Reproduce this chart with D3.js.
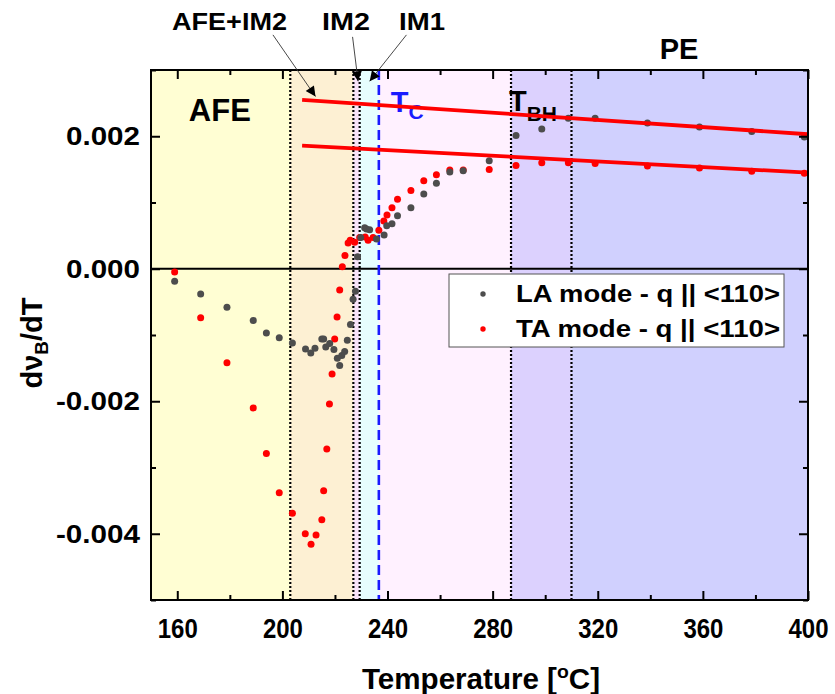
<!DOCTYPE html>
<html>
<head>
<meta charset="utf-8">
<script src="https://cdn.jsdelivr.net/npm/d3@7"></script>
<style>
  body { margin: 0; background: #fff; }
  text { font-family: "Liberation Sans", Arial, sans-serif; font-weight: bold; fill: #000; }
</style>
</head>
<body>
<svg id="chart" width="835" height="694"></svg>
<script>
// LA mode (gray) : temperature [°C] and dν_B/dT
const laT = [159.0, 168.9, 178.9, 188.9, 193.9, 198.8, 203.8, 208.8, 210.8, 212.4,
             215.0, 215.7, 216.5, 218.0, 219.6, 220.9, 221.8, 222.6, 223.7, 224.7,
             225.9, 226.9, 227.8, 228.6, 229.8, 231.3, 232.0, 233.2, 235.8, 238.7,
             239.7, 241.7, 243.8, 248.9, 253.8, 258.6, 263.7, 268.8, 278.7, 288.9,
             298.7, 308.8, 319.0, 338.9, 358.7, 378.6, 398.6];
const laV = [-0.00019, -0.00038, -0.00058, -0.00078, -0.00097, -0.00104, -0.00112, -0.00121, -0.00127, -0.00120,
             -0.00106, -0.00106, -0.00118, -0.00113, -0.00122, -0.00135, -0.00146, -0.00131, -0.00125, -0.00108,
             -0.00084, -0.00046, -0.00034, 0.00018, 0.00047, 0.00062, 0.00060, 0.00059, 0.00045, 0.00051,
             0.00065, 0.00068, 0.00080, 0.00092, 0.00113, 0.00129, 0.00146, 0.00148, 0.00163, 0.00201,
             0.00211, 0.00227, 0.00227, 0.00220, 0.00214, 0.00207, 0.00199];

// TA mode (red)
const taT = [159.0, 168.9, 178.9, 188.9, 193.9, 198.8, 203.8, 208.7, 210.9, 212.8,
             215.0, 215.7, 216.9, 217.9, 218.9, 219.9, 220.8, 221.8, 222.8, 223.8,
             225.0, 225.8, 227.5, 229.4, 231.5, 232.6, 234.5, 236.7, 238.6, 239.8,
             241.7, 243.8, 248.9, 253.8, 258.6, 263.7, 268.8, 278.7, 288.9, 298.7,
             308.8, 319.0, 338.9, 358.7, 378.6, 398.6];
const taV = [-0.00005, -0.00074, -0.00142, -0.00210, -0.00279, -0.00338, -0.00369, -0.00400, -0.00416, -0.00402,
             -0.00379, -0.00335, -0.00272, -0.00204, -0.00159, -0.00106, -0.00073, -0.00032, 0.00003, 0.00020,
             0.00039, 0.00043, 0.00040, 0.00047, 0.00048, 0.00043, 0.00047, 0.00058, 0.00072, 0.00081,
             0.00092, 0.00105, 0.00118, 0.00133, 0.00142, 0.00149, 0.00149, 0.00150, 0.00156, 0.00160,
             0.00160, 0.00159, 0.00155, 0.00152, 0.00147, 0.00144];

// Linear fits in the paraelectric range
const fitT  = [207.5, 400];
const fitLA = [0.00255, 0.00203];
const fitTA = [0.00186, 0.00145];

// Phase regions (temperature bounds) and their fills
const regionEdges  = [150, 203, 227, 229.4, 236.7, 287, 310, 400];
const regionColors = ["#FFFED3", "#FDF0D3", "#F8E2F8", "#E6FEFE", "#FFF1FF", "#DCD1FE", "#D0D0FE"];
const dottedAt = [203, 227, 229.4, 287, 310];
const tcAt = 236.7;

const xMajor = [160, 200, 240, 280, 320, 360, 400];
const xMinor = [180, 220, 260, 300, 340, 380];
const yMajor = [-0.004, -0.002, 0, 0.002];
const yMinor = [-0.005, -0.003, -0.001, 0.001, 0.003];

const svg = d3.select("#chart");
const L = 151, R = 808, T = 70, B = 600;
const x = d3.scaleLinear().domain([150, 400]).range([L, R]);
const y = d3.scaleLinear().domain([-0.005, 0.003]).range([B, T]);

// background regions
const g = svg.append("g");
g.selectAll("rect.region").data(regionColors).join("rect")
  .attr("class", "region")
  .attr("x", (d, i) => x(regionEdges[i]))
  .attr("width", (d, i) => x(regionEdges[i + 1]) - x(regionEdges[i]))
  .attr("y", T).attr("height", B - T)
  .attr("fill", d => d);

// zero line
g.append("line").attr("x1", L).attr("x2", R).attr("y1", y(0)).attr("y2", y(0))
  .attr("stroke", "#000").attr("stroke-width", 2);

// phase boundaries
g.selectAll("line.bound").data(dottedAt).join("line")
  .attr("class", "bound")
  .attr("x1", d => x(d)).attr("x2", d => x(d)).attr("y1", T).attr("y2", B)
  .attr("stroke", "#000").attr("stroke-width", 2.2).attr("stroke-dasharray", "2,2");

g.append("line").attr("x1", x(tcAt)).attr("x2", x(tcAt)).attr("y1", T).attr("y2", B)
  .attr("stroke", "#1a1aff").attr("stroke-width", 2.6).attr("stroke-dasharray", "10,5");

// in-plot labels
g.append("text").attr("x", x(164.4)).attr("y", 121).attr("font-size", 31).text("AFE");
const tc = g.append("text").attr("x", x(241.2)).attr("y", 112).attr("font-size", 29).style("fill", "#1a1aff");
tc.append("tspan").text("T");
tc.append("tspan").attr("font-size", 21).attr("dy", 7).text("C");
const tbh = g.append("text").attr("x", x(286.2)).attr("y", 111).attr("font-size", 29);
tbh.append("tspan").text("T");
tbh.append("tspan").attr("font-size", 21).attr("dy", 10).text("BH");

// data points
g.selectAll("circle.ta").data(taT).join("circle")
  .attr("class", "ta")
  .attr("cx", d => x(d)).attr("cy", (d, i) => y(taV[i])).attr("r", 3.5).attr("fill", "#ff0000");
g.selectAll("circle.la").data(laT).join("circle")
  .attr("class", "la")
  .attr("cx", d => x(d)).attr("cy", (d, i) => y(laV[i])).attr("r", 3.5).attr("fill", "#4d4d4d");

// fit lines
[fitLA, fitTA].forEach(f => {
  g.append("line")
    .attr("x1", x(fitT[0])).attr("y1", y(f[0]))
    .attr("x2", x(fitT[1])).attr("y2", y(f[1]))
    .attr("stroke", "#ff0000").attr("stroke-width", 3.8);
});

// axes: major + minor ticks on all four sides, pointing inward
function styleAxis(sel) {
  sel.select(".domain").remove();
  sel.selectAll(".tick line").attr("stroke", "#000").attr("stroke-width", 2);
}
const fmtY = v => v.toFixed(3);
svg.append("g").attr("transform", `translate(0,${B})`)
  .call(d3.axisBottom(x).tickValues(xMajor).tickSize(-9).tickPadding(18).tickFormat(d3.format("d")))
  .call(styleAxis)
  .call(s => s.selectAll("text").attr("font-size", 28).attr("font-family", "Liberation Sans").attr("font-weight", "bold")
    .attr("textLength", 40).attr("lengthAdjust", "spacingAndGlyphs"));
svg.append("g").attr("transform", `translate(0,${B})`)
  .call(d3.axisBottom(x).tickValues(xMinor).tickSize(-5).tickFormat("")).call(styleAxis);
svg.append("g").attr("transform", `translate(0,${T})`)
  .call(d3.axisTop(x).tickValues(xMajor).tickSize(-9).tickFormat("")).call(styleAxis);
svg.append("g").attr("transform", `translate(0,${T})`)
  .call(d3.axisTop(x).tickValues(xMinor).tickSize(-5).tickFormat("")).call(styleAxis);
svg.append("g").attr("transform", `translate(${L},0)`)
  .call(d3.axisLeft(y).tickValues(yMajor).tickSize(-9).tickPadding(11).tickFormat(fmtY))
  .call(styleAxis)
  .call(s => s.selectAll("text").attr("font-size", 26).attr("font-family", "Liberation Sans").attr("font-weight", "bold")
    .attr("textLength", d => d < 0 ? 84 : 74).attr("lengthAdjust", "spacingAndGlyphs"));
svg.append("g").attr("transform", `translate(${L},0)`)
  .call(d3.axisLeft(y).tickValues(yMinor).tickSize(-5).tickFormat("")).call(styleAxis);
svg.append("g").attr("transform", `translate(${R},0)`)
  .call(d3.axisRight(y).tickValues(yMajor).tickSize(-9).tickFormat("")).call(styleAxis);
svg.append("g").attr("transform", `translate(${R},0)`)
  .call(d3.axisRight(y).tickValues(yMinor).tickSize(-5).tickFormat("")).call(styleAxis);

// frame
svg.append("rect").attr("x", L).attr("y", T).attr("width", R - L).attr("height", B - T)
  .attr("fill", "none").attr("stroke", "#000").attr("stroke-width", 2);

// legend
const lg = svg.append("g");
lg.append("rect").attr("x", 449).attr("y", 274).attr("width", 335).attr("height", 73)
  .attr("fill", "#fff").attr("stroke", "#555").attr("stroke-width", 1);
const legendItems = [["LA mode - q || <110>", "#4d4d4d"], ["TA mode - q || <110>", "#ff0000"]];
legendItems.forEach((d, i) => {
  lg.append("circle").attr("cx", 483).attr("cy", 294 + i * 35).attr("r", 2.7).attr("fill", d[1]);
  lg.append("text").attr("x", 516).attr("y", 302 + i * 35).attr("font-size", 24.5)
    .attr("textLength", 264).attr("lengthAdjust", "spacingAndGlyphs").text(d[0]);
});

// axis titles
const xt = svg.append("text").attr("x", 362).attr("y", 689).attr("font-size", 29)
  .attr("textLength", 238).attr("lengthAdjust", "spacingAndGlyphs");
xt.append("tspan").text("Temperature [");
xt.append("tspan").attr("font-size", 19).attr("dy", -11).text("o");
xt.append("tspan").attr("dy", 11).text("C]");

const yt = svg.append("text").attr("transform", "translate(42,343) rotate(-90)").attr("text-anchor", "middle").attr("font-size", 29);
yt.append("tspan").text("dν");
yt.append("tspan").attr("font-size", 19).attr("dy", 6).text("B");
yt.append("tspan").attr("dy", -6).text("/dT");

// phase labels above the plot, with arrows into the narrow regions
const defs = svg.append("defs");
defs.append("marker").attr("id", "head").attr("viewBox", "0 0 10 10")
  .attr("refX", 10).attr("refY", 5).attr("markerWidth", 15).attr("markerHeight", 10)
  .attr("markerUnits", "userSpaceOnUse").attr("orient", "auto")
  .append("path").attr("d", "M0,0 L10,5 L0,10 Z").attr("fill", "#000");

const topLabels = [
  { text: "AFE+IM2", cx: 229.5, w: 115, tail: [196.4, 0.00353], tip: [212.6, 0.00260] },
  { text: "IM2",     cx: 346,   w: 48,  tail: [226.7, 0.00350], tip: [228.8, 0.00283] },
  { text: "IM1",     cx: 422,   w: 46,  tail: [247.2, 0.00353], tip: [233.2, 0.00283] }
];
topLabels.forEach(d => {
  svg.append("text").attr("x", d.cx - d.w / 2).attr("y", 30).attr("font-size", 24.5)
    .attr("textLength", d.w).attr("lengthAdjust", "spacingAndGlyphs").text(d.text);
  svg.append("line")
    .attr("x1", x(d.tail[0])).attr("y1", y(d.tail[1]))
    .attr("x2", x(d.tip[0])).attr("y2", y(d.tip[1]))
    .attr("stroke", "#333").attr("stroke-width", 0.9).attr("marker-end", "url(#head)");
});
svg.append("text").attr("x", 679).attr("y", 59).attr("text-anchor", "middle").attr("font-size", 29).text("PE");
</script>
</body>
</html>
